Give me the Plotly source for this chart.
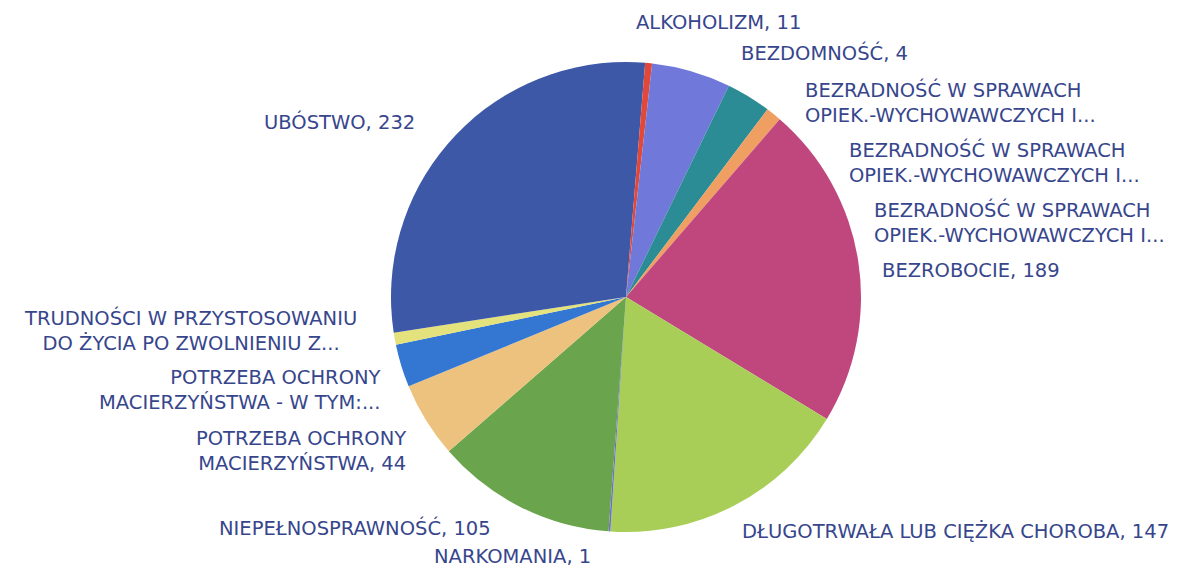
import plotly.graph_objects as go

# ---- data ----
categories = [
    "ALKOHOLIZM",
    "BEZDOMNOŚĆ",
    "BEZRADNOŚĆ W SPRAWACH OPIEK.-WYCHOWAWCZYCH I... (1)",
    "BEZRADNOŚĆ W SPRAWACH OPIEK.-WYCHOWAWCZYCH I... (2)",
    "BEZRADNOŚĆ W SPRAWACH OPIEK.-WYCHOWAWCZYCH I... (3)",
    "BEZROBOCIE",
    "DŁUGOTRWAŁA LUB CIĘŻKA CHOROBA",
    "NARKOMANIA",
    "NIEPEŁNOSPRAWNOŚĆ",
    "POTRZEBA OCHRONY MACIERZYŃSTWA",
    "POTRZEBA OCHRONY MACIERZYŃSTWA - W TYM:...",
    "TRUDNOŚCI W PRZYSTOSOWANIU DO ŻYCIA PO ZWOLNIENIU Z...",
    "UBÓSTWO",
]
values = [11, 4, 46, 26, 9, 189, 147, 1, 105, 44, 25, 7, 232]

# displayed label lines (as printed in the chart); truncated ones carry no value
label_lines = [
    ["ALKOHOLIZM"],
    ["BEZDOMNOŚĆ"],
    ["BEZRADNOŚĆ W SPRAWACH", "OPIEK.-WYCHOWAWCZYCH I..."],
    ["BEZRADNOŚĆ W SPRAWACH", "OPIEK.-WYCHOWAWCZYCH I..."],
    ["BEZRADNOŚĆ W SPRAWACH", "OPIEK.-WYCHOWAWCZYCH I..."],
    ["BEZROBOCIE"],
    ["DŁUGOTRWAŁA LUB CIĘŻKA CHOROBA"],
    ["NARKOMANIA"],
    ["NIEPEŁNOSPRAWNOŚĆ"],
    ["POTRZEBA OCHRONY", "MACIERZYŃSTWA"],
    ["POTRZEBA OCHRONY", "MACIERZYŃSTWA - W TYM:..."],
    ["TRUDNOŚCI W PRZYSTOSOWANIU", "DO ŻYCIA PO ZWOLNIENIU Z..."],
    ["UBÓSTWO"],
]
show_value = [True, True, False, False, False, True, True, True, True, True, False, False, True]

# ---- styles / layout ----
colors = [
    "#3E58A8", "#E2483A", "#7078DA", "#2C8C95", "#EF9F62", "#C0467E",
    "#A9CE57", "#6C6CD8", "#6AA44C", "#EDC27F", "#3477D2", "#E4E27C", "#3E58A8",
]
W, H = 1191, 571
OFF = 8  # page body margin offset
CX, CY, R = 626 - OFF, 297 - OFF, 235
TEXT_COLOR = "#37468C"
FONT = "DejaVu Sans"
FSIZE = 19.5

# label anchor (pixel x, pixel y of label block centre, anchor) in page pixels
label_pos = [
    (634, 22, "left"),
    (739, 53, "left"),
    (803, 102, "left"),
    (847, 162, "left"),
    (872, 222, "left"),
    (880, 270, "left"),
    (740, 531, "left"),
    (512, 556, "center"),
    (493, 528, "right"),
    (408, 451, "right"),
    (383, 390, "right"),
    (190, 330, "center"),
    (417, 122, "right"),
]

fig = go.Figure(
    go.Pie(
        labels=categories,
        values=values,
        sort=False,
        direction="clockwise",
        rotation=0,
        textinfo="none",
        marker=dict(colors=colors, line=dict(width=0)),
        showlegend=False,
        domain=dict(
            x=[(CX - R) / W, (CX + R) / W],
            y=[1 - (CY + R) / H, 1 - (CY - R) / H],
        ),
    )
)

annotations = []
for lines, sv, v, (px, py, xa) in zip(label_lines, show_value, values, label_pos):
    lines = list(lines)
    if sv:
        lines[-1] = f"{lines[-1]}, {v}"
    annotations.append(
        dict(
            x=(px - OFF) / W,
            y=1 - (py - OFF) / H,
            xref="paper",
            yref="paper",
            text="<br>".join(lines),
            showarrow=False,
            xanchor=xa,
            align=xa,
            yanchor="middle",
            font=dict(family=FONT, size=FSIZE, color=TEXT_COLOR),
        )
    )

fig.update_layout(
    width=W,
    height=H,
    margin=dict(l=0, r=0, t=0, b=0),
    paper_bgcolor="white",
    plot_bgcolor="white",
    annotations=annotations,
)

fig.write_html("out.html")
